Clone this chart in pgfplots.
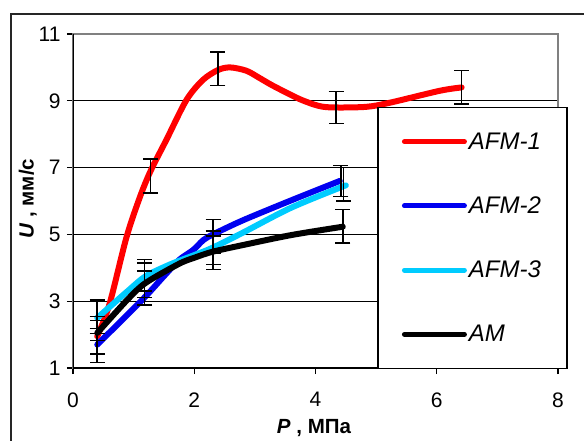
\documentclass[border=0pt]{standalone}
\usepackage{pgfplots}
\pgfplotsset{compat=1.18}
\usepackage{fontspec}
\setmainfont{Liberation Sans}
\definecolor{cred}{HTML}{FF0000}
\definecolor{cblue}{HTML}{0000F0}
\definecolor{ccyan}{HTML}{00CCFF}
\begin{document}
\begin{tikzpicture}[x=1pt,y=1pt]
\useasboundingbox (0,0) rectangle (584,440);
\fill[white] (0,0) rectangle (584,440);
\draw[line width=1.8pt, black!85] (11,426) rectangle (590,-10);
\begin{axis}[
  at={(73pt,72pt)}, anchor=origin,
  scale only axis, width=485pt, height=334pt,
  xmin=0, xmax=8, ymin=1, ymax=11,
  xtick={0,2,4,6,8}, ytick={1,3,5,7,9,11},
  tick pos=left, tick align=outside, major tick length=6pt,
  every tick/.style={black, line width=1.2pt},
  axis line style={draw=black!50, line width=1.4pt},
  ymajorgrids, grid style={black, line width=0.9pt},
  /pgf/number format/assume math mode=true,
  yticklabel style={font=\fontsize{21}{24}\selectfont, xshift=-3pt},
  xticklabel style={font=\fontsize{21}{24}\selectfont, yshift=-15pt},
  xlabel={\textbf{\textit{P} , МПа}},
  ylabel={\textbf{\textit{U} , мм/с}},
  label style={font=\fontsize{20.5}{24}\selectfont},
  xlabel style={at={(axis description cs:0.497,-0.18)}, anchor=center},
  ylabel style={at={(axis description cs:-0.093,0.507)}, anchor=center},
  legend style={at={(axis cs:5.02,8.81)}, anchor=north west, draw=black, line width=1.2pt,
    fill=white, inner xsep=24pt, inner ysep=23pt, row sep=42pt,
    font=\itshape\fontsize{24}{28}\selectfont,
    /tikz/every even column/.append style={column sep=5pt}},
  legend cell align=left,
  legend image code/.code={\draw[#1, line width=5pt, line cap=round] (0pt,0pt) -- (60pt,0pt);},
]
\addplot[cred, line width=6pt, smooth, line cap=round] coordinates {
(0.4,1.95)(0.6,2.9)(0.88,4.9)(1.1,6.1)(1.28,6.9)(1.54,7.83)(1.87,9.02)(2.14,9.62)(2.39,9.92)(2.59,10.0)(2.86,9.9)(3.08,9.68)(3.3,9.45)(3.74,9.05)(4.07,8.84)(4.34,8.8)(4.84,8.82)(5.22,8.94)(6.05,9.3)(6.41,9.4)};
\addlegendentry{AFM-1}
\addplot[cblue, line width=6pt, smooth, line cap=round] coordinates {
(0.4,1.7)(0.8,2.42)(1.2,3.15)(1.5,3.75)(1.76,4.25)(1.98,4.53)(2.15,4.83)(2.31,5.0)(2.8,5.42)(3.6,6.02)(4.4,6.6)};
\addlegendentry{AFM-2}
\addplot[ccyan, line width=6pt, smooth, line cap=round] coordinates {
(0.4,2.5)(0.9,3.3)(1.2,3.75)(1.6,4.1)(2.0,4.38)(2.3,4.6)(2.8,5.05)(3.6,5.8)(4.5,6.47)};
\addlegendentry{AFM-3}
\addplot[black, line width=6pt, smooth, line cap=round] coordinates {
(0.4,2.05)(0.9,3.05)(1.2,3.55)(1.75,4.12)(2.0,4.3)(2.3,4.48)(2.8,4.68)(3.6,4.98)(4.45,5.23)};
\addlegendentry{AM}
\addplot[draw=none, mark=none, forget plot,
  error bars/.cd, y dir=both, y explicit,
  error bar style={draw=black, line width=1.5pt},
  error mark options={rotate=90, mark size=7.5pt, line width=1.5pt, draw=black}]
coordinates {
(0.4,2.1) +- (0,0.94)
(0.4,2.48) +- (0,0.06)
(0.4,2.0) +- (0,0.18)
(0.4,1.73) +- (0,0.31)
(1.18,3.57) +- (0,0.68)
(1.18,3.63) +- (0,0.52)
(1.18,3.6) +- (0,0.3)
(1.28,6.75) +- (0,0.51)
(2.39,9.96) +- (0,0.5)
(2.31,4.95) +- (0,0.5)
(2.31,4.6) +- (0,0.5)
(2.31,4.45) +- (0,0.5)
(4.34,8.8) +- (0,0.48)
(4.42,6.6) +- (0,0.47)
(4.46,6.5) +- (0,0.5)
(4.45,5.25) +- (0,0.5)
(6.41,9.41) +- (0,0.5)
};
\draw[black, line width=1.4pt] (rel axis cs:0,1) -- (rel axis cs:0,0) -- (rel axis cs:1,0);
\end{axis}
\end{tikzpicture}
\end{document}
